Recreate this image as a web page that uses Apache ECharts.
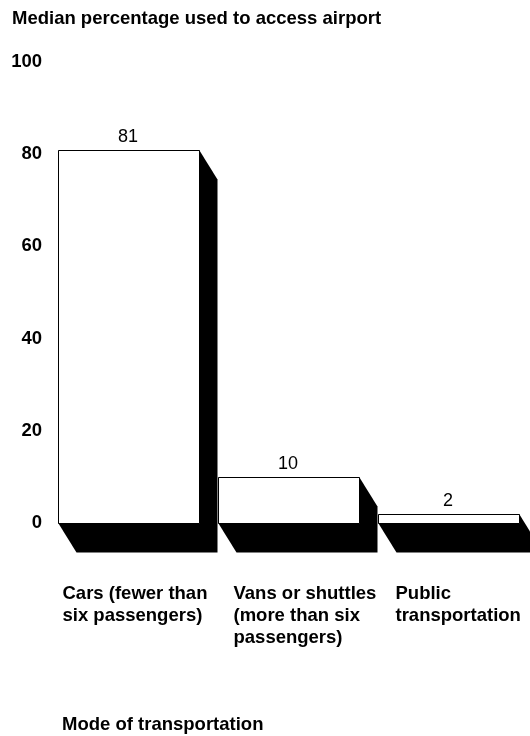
<!DOCTYPE html>
<html>
<head>
<meta charset="utf-8">
<script src="https://cdn.jsdelivr.net/npm/echarts@6/dist/echarts.min.js"></script>
<style>
  html, body { margin: 0; padding: 0; background: #fff; }
  #chart { width: 530px; height: 736px; }
</style>
</head>
<body>
<div id="chart"></div>
<script>
const categories = ['Cars (fewer than\nsix passengers)', 'Vans or shuttles\n(more than six\npassengers)', 'Public\ntransportation'];
const values = [81, 10, 2];
const yTicks = { min: 0, max: 100, step: 20 };

const font = '"Liberation Sans", Arial, sans-serif';
const boldSize = 18.5;
const depthX = 18; // shadow offset
const depthY = 29;
const labelShift = [4, 15, 17]; // category label indent from bar's left edge

function renderBar(params, api) {
    const top = api.coord([api.value(0), api.value(1)]);
    const base = api.coord([api.value(0), 0]);
    const w = api.size([1, 0])[0] * 141 / 160;
    const x0 = Math.round(top[0] - w / 2) + 0.5;
    const x1 = Math.round(top[0] + w / 2) + 0.5;
    const y0 = Math.round(top[1]) + 0.5;
    const y1 = Math.round(base[1]) + 0.5;
    return {
        type: 'group',
        children: [
            {
                type: 'polygon',
                shape: { points: [[x0, y0], [x1, y0], [x1 + depthX, y0 + depthY], [x1 + depthX, y1 + depthY], [x0 + depthX, y1 + depthY], [x0, y1]] },
                style: { fill: '#000' }
            },
            {
                type: 'rect',
                shape: { x: x0, y: y0, width: x1 - x0, height: y1 - y0 },
                style: { fill: '#fff', stroke: '#000', lineWidth: 1 }
            },
            {
                type: 'text',
                style: {
                    x: (x0 + x1) / 2 - 1, y: y0 - 4,
                    text: String(api.value(1)),
                    align: 'center', verticalAlign: 'bottom',
                    fontSize: 18, fontFamily: font, fill: '#000'
                }
            },
            {
                type: 'text',
                style: {
                    x: x0 + labelShift[params.dataIndex], y: y1 + 59,
                    text: categories[params.dataIndex],
                    align: 'left', verticalAlign: 'top',
                    fontSize: boldSize, fontWeight: 'bold', lineHeight: 22,
                    fontFamily: font, fill: '#000'
                }
            }
        ]
    };
}

const chart = echarts.init(document.getElementById('chart'));
chart.setOption({
    animation: false,
    backgroundColor: '#fff',
    title: [
        { text: 'Median percentage used to access airport', left: 12, top: 9, padding: 0,
          textStyle: { fontSize: boldSize, fontWeight: 'bold', color: '#000', fontFamily: font } },
        { text: 'Mode of transportation', left: 62, top: 715, padding: 0,
          textStyle: { fontSize: boldSize, fontWeight: 'bold', color: '#000', fontFamily: font } }
    ],
    grid: { left: 48.5, right: 1.5, top: 62, bottom: 213 },
    xAxis: {
        type: 'category',
        data: categories,
        axisLine: { show: false },
        axisTick: { show: false },
        axisLabel: { show: false }
    },
    yAxis: {
        type: 'value',
        min: yTicks.min,
        max: yTicks.max,
        interval: yTicks.step,
        axisLine: { show: false },
        axisTick: { show: false },
        splitLine: { show: false },
        axisLabel: { margin: 6.5, fontSize: boldSize, fontWeight: 'bold', color: '#000', fontFamily: font }
    },
    series: [{
        type: 'custom',
        renderItem: renderBar,
        encode: { x: 0, y: 1 },
        data: values.map((v, i) => [i, v])
    }]
});
</script>
</body>
</html>
